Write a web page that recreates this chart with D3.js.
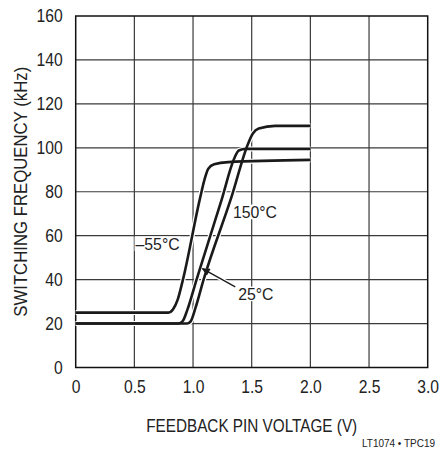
<!DOCTYPE html>
<html><head><meta charset="utf-8">
<script src="https://cdn.jsdelivr.net/npm/d3@7/dist/d3.min.js"></script>
<style>
html,body{margin:0;padding:0;background:#fff;}
text{font-family:"Liberation Sans",Arial,sans-serif;fill:#222;}
</style></head>
<body><svg id="chart" width="440" height="449"></svg>
<script>
// ---- data ----
const xTicks = [0, 0.5, 1.0, 1.5, 2.0, 2.5, 3.0];
const xTickLabels = ["0", "0.5", "1.0", "1.5", "2.0", "2.5", "3.0"];
const yTicks = [0, 20, 40, 60, 80, 100, 120, 140, 160];
const seriesNames = ["–55°C", "25°C", "150°C"];
const curveM55 = [[0,25],[0.79,25],[0.83,26.5],[0.87,31],[0.914,40],[1.057,76.4],[1.10,86],[1.13,90.5],[1.18,92.5],[1.3,93.5],[2.0,94.5]];
const curve25 = [[0,20],[0.87,20],[0.91,21],[0.95,26],[1.03,40],[1.244,76.4],[1.35,95],[1.39,98.8],[1.45,99.5],[2.0,99.5]];
const curve150 = [[0,20],[0.95,20],[0.98,21],[1.02,27],[1.09,40],[1.33,78],[1.47,102],[1.51,106.5],[1.56,108.8],[1.7,110],[2.0,110]];
const labelPos = [[0.51,53.5],[1.385,30.7],[1.34,68]]; // label anchors (V, kHz)
const arrow25 = [[1.36,36.7],[1.08,45]];
const xTitle = "FEEDBACK PIN VOLTAGE (V)";
const yTitle = "SWITCHING FREQUENCY (kHz)";
const note = "LT1074 • TPC19";

// ---- layout ----
const svg = d3.select("#chart");
const W = 440, H = 449;
const m = {top:16, right:12.3, bottom:81.5, left:75.7};
const x = d3.scaleLinear().domain([0,3]).range([m.left, W-m.right]);
const y = d3.scaleLinear().domain([0,160]).range([H-m.bottom, m.top]);
const SX = 0.87; // condensed look

// grid
const g = svg.append("g");
g.selectAll(".vg").data(xTicks.slice(1,-1)).enter().append("line")
  .attr("x1",d=>x(d)).attr("x2",d=>x(d)).attr("y1",y(0)).attr("y2",y(160))
  .attr("stroke","#3a3a3a").attr("stroke-width",1.2);
g.selectAll(".hg").data(yTicks.slice(1,-1)).enter().append("line")
  .attr("y1",d=>y(d)).attr("y2",d=>y(d)).attr("x1",x(0)).attr("x2",x(3))
  .attr("stroke","#3a3a3a").attr("stroke-width",1.2);
// frame
svg.append("rect").attr("x",x(0)).attr("y",y(160)).attr("width",x(3)-x(0)).attr("height",y(0)-y(160))
  .attr("fill","none").attr("stroke","#111").attr("stroke-width",1.5);

// axes tick labels
const xAxis = d3.axisBottom(x).tickValues(xTicks).tickFormat((d,i)=>xTickLabels[i]).tickSize(0).tickPadding(13);
const xa = svg.append("g").attr("transform",`translate(0,${y(0)})`).call(xAxis).attr("font-family",null).attr("font-size",null);
xa.select(".domain").remove();
const yAxis = d3.axisLeft(y).tickValues(yTicks).tickSize(0).tickPadding(13);
const ya = svg.append("g").attr("transform",`translate(${x(0)},0)`).call(yAxis).attr("font-family",null).attr("font-size",null);
ya.select(".domain").remove();
[xa, ya].forEach(a => a.selectAll("text").each(function(){
  const t = d3.select(this);
  const xv = +t.attr("x") || 0;
  t.attr("x", xv/SX).attr("transform",`scale(${SX},1)`).attr("font-size",18).attr("fill","#222");
}));

// curves
const line = d3.line().x(d=>x(d[0])).y(d=>y(d[1])).curve(d3.curveMonotoneX);
const curves = [curveM55, curve25, curve150];
svg.selectAll(".halo").data(curves).enter().append("path")
  .attr("d",line).attr("fill","none").attr("stroke","#fff").attr("stroke-width",5);
svg.selectAll(".curve").data(curves).enter().append("path")
  .attr("d",line).attr("fill","none").attr("stroke","#1a1a1a").attr("stroke-width",2.6)
  .attr("stroke-linejoin","round");

// arrow
svg.append("defs").append("marker").attr("id","ah").attr("viewBox","0 0 10 10")
  .attr("refX",9).attr("refY",5).attr("markerWidth",10).attr("markerHeight",8)
  .attr("markerUnits","userSpaceOnUse").attr("orient","auto")
  .append("path").attr("d","M0,0 L10,5 L0,10 z").attr("fill","#1a1a1a");
svg.append("line").attr("x1",x(arrow25[0][0])).attr("y1",y(arrow25[0][1]))
  .attr("x2",x(arrow25[1][0])).attr("y2",y(arrow25[1][1]))
  .attr("stroke","#fff").attr("stroke-width",4);
svg.append("line").attr("x1",x(arrow25[0][0])).attr("y1",y(arrow25[0][1]))
  .attr("x2",x(arrow25[1][0])).attr("y2",y(arrow25[1][1]))
  .attr("stroke","#1a1a1a").attr("stroke-width",1.3).attr("marker-end","url(#ah)");

// labels with white background
seriesNames.forEach((s,i)=>{
  const t = svg.append("text").attr("transform",`translate(${x(labelPos[i][0])},${y(labelPos[i][1])}) scale(0.93,1)`)
    .attr("font-size",17).text(s);
  const b = t.node().getBBox();
  svg.insert("rect", () => t.node()).attr("x",x(labelPos[i][0])-1).attr("y",y(labelPos[i][1])+b.y+2)
    .attr("width",b.width*0.93+2).attr("height",b.height-4).attr("fill","#fff");
});

// titles
svg.append("text").attr("x",(x(0)+x(3))/2-105.5).attr("y",431.5)
  .attr("font-size",18.5).attr("textLength",211).attr("lengthAdjust","spacingAndGlyphs").text(xTitle);
svg.append("text").attr("transform",`translate(27,${(y(0)+y(160))/2+125}) rotate(-90)`)
  .attr("font-size",18.5).attr("textLength",250).attr("lengthAdjust","spacingAndGlyphs").text(yTitle);
svg.append("text").attr("x",362).attr("y",447)
  .attr("font-size",10.5).attr("textLength",73).attr("lengthAdjust","spacingAndGlyphs").text(note);
</script></body></html>
